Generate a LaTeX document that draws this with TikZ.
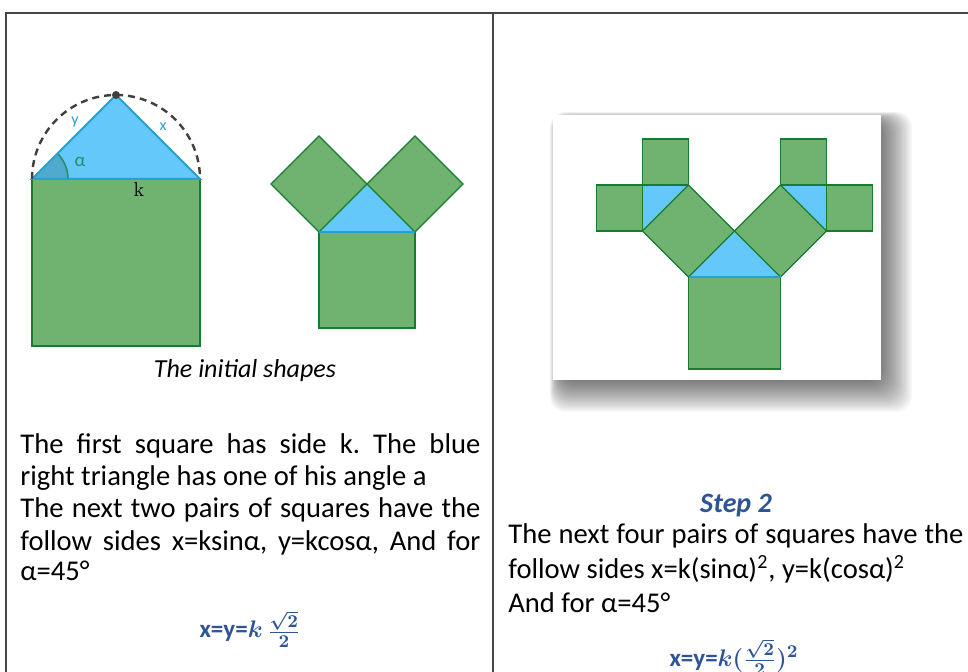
\documentclass[tikz,border=0pt]{standalone}
\usepackage{fontspec}
\usepackage{amsmath}
\newfontfamily\calibri{Carlito}
\frenchspacing
\definecolor{sqgreen}{RGB}{112,178,112}
\definecolor{sqedge}{RGB}{24,124,46}
\definecolor{trifill}{RGB}{100,200,250}
\definecolor{triedge}{RGB}{40,160,215}
\definecolor{anglefill}{RGB}{80,170,205}
\definecolor{angleline}{RGB}{40,140,110}
\definecolor{fblue}{RGB}{47,84,150}
\definecolor{rulegray}{RGB}{70,70,70}

\begin{document}
\begin{tikzpicture}[x=0.5pt,y=-0.5pt,
  sq/.style={fill=sqgreen,draw=sqedge,line width=0.6pt},
  tri/.style={fill=trifill},
  halfcircle/.style={draw=black!75,line width=1.2pt,dash pattern=on 3.5pt off 2.5pt},
  txt/.style={font=\calibri\fontsize{14.3}{16}\selectfont,anchor=base west,inner sep=0pt},
  formula/.style={font=\calibri\fontsize{12.5}{14}\selectfont,text=fblue,anchor=base,inner sep=0pt}]
\useasboundingbox (0,0) rectangle (968,672);
\fill[white] (0,0) rectangle (968,672);
% cadre du tableau
\draw[rulegray,line width=1pt] (968,13) -- (6,13) -- (6,672);
\draw[rulegray,line width=1pt] (493,13) -- (493,672);

% carre de cote k et son triangle
\draw[sq] (32,179) rectangle (200,346);
\fill[tri] (32,179) -- (116,95) -- (200,179) -- cycle;
\fill[anglefill] (32,179) -- (68,179) arc[start angle=0,end angle=-45,radius=36] -- cycle;
\draw[angleline,line width=0.8pt] (68,179) arc[start angle=0,end angle=-45,radius=36];
\draw[triedge,line width=1pt] (32,179) -- (116,95) -- (200,179) -- cycle;
\draw[halfcircle] (32,179) arc[start angle=180,end angle=360,radius=84];
\fill[black!75] (116,95) circle[radius=4];
\node[text=triedge,font=\calibri\fontsize{8}{8}\selectfont] (ly) at (75,122) {y};
\node[text=triedge,font=\calibri\fontsize{8}{8}\selectfont] (lx) at (163,127) {x};
\node[text=angleline,font=\calibri\fontsize{9.5}{9}\selectfont] (la) at (80,162) {α};
\node[font=\fontsize{10}{10}\selectfont] (lk) at (139,190) {k};

% premiere etape
\fill[tri] (319,232) -- (367,184) -- (415,232) -- cycle;
\draw[sq] (319,232) rectangle (415,328);
\foreach \s in {-1,1}
  \draw[sq] (367+\s*48,232) -- (367,184) -- (367+\s*48,136) -- (367+\s*96,184) -- cycle;
\draw[triedge,line width=0.8pt] (319,232) -- (415,232);

% image de l'etape 2, avec ombre
\foreach \s in {0,...,20}
  \fill[black,opacity=0.035,rounded corners=8pt] (562-\s*0.6,122-\s*0.5) rectangle (876+\s*1.8,376+\s*1.8);
\fill[white] (553,115) rectangle (881,380);
\fill[tri] (688.5,277) -- (734.5,231) -- (780.5,277) -- cycle;
\draw[sq] (688.5,277) rectangle (780.5,369);
\foreach \s in {-1,1}{
  \fill[tri] (734.5+\s*92,185) -- (734.5+\s*46,185) -- (734.5+\s*92,231) -- cycle;
  \draw[sq] (734.5+\s*46,277) -- (734.5,231) -- (734.5+\s*46,185) -- (734.5+\s*92,231) -- cycle;
  \draw[sq] (734.5+\s*46,139) rectangle (734.5+\s*92,185);
  \draw[sq] (734.5+\s*92,185) rectangle (734.5+\s*138,231);
}
\draw[triedge,line width=0.8pt] (688.5,277) -- (780.5,277);

% textes de gauche
\node[txt,anchor=base,font=\calibri\fontsize{13}{14}\selectfont] (cap) at (245,378) {\itshape The initial shapes};
\node[txt] (p1) at (20,454) {\makebox[230pt][s]{The first square has side k. The blue}};
\node[txt] (p2) at (20,486) {right triangle has one of his angle a};
\node[txt] (p3) at (20,518) {\makebox[230pt][s]{The next two pairs of squares have the}};
\node[txt] (p4) at (20,551) {\makebox[230pt][s]{follow sides x=ksinα, y=kcosα, And for}};
\node[txt] (p5) at (20,581) {α=45°};
\node[formula] (f1) at (250,638) {\textbf{x=y=}$\boldsymbol{k\,\frac{\sqrt{2}}{2}}$};

% textes de droite
\node[formula,font=\calibri\fontsize{14}{14}\selectfont] (step) at (736,513) {\bfseries\itshape Step 2};
\node[txt] (q1) at (508,544) {\makebox[227.5pt][s]{The next four pairs of squares have the}};
\node[txt] (q2) at (508,579) {follow sides x=k(sinα)\textsuperscript{2}, y=k(cosα)\textsuperscript{2}};
\node[txt] (q3) at (508,612) {And for α=45°};
\node[formula] (f2) at (734,666) {\textbf{x=y=}$\boldsymbol{k(\frac{\sqrt{2}}{2})^2}$};
\end{tikzpicture}
\end{document}
